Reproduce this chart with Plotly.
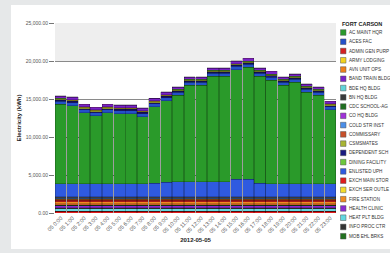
import plotly.graph_objects as go

hours = ["05 %d:00" % h for h in range(24)]

# legend order (names and colours)
series_names = ["AC MAINT HQR", "ACES FAC", "ADMIN GEN PURP", "ARMY LODGING", "AVN UNIT OPS",
                "BAND TRAIN BLDG", "BDE HQ BLDG", "BN HQ BLDG", "CDC SCHOOL-AG", "CO HQ BLDG",
                "COLD STR INST", "COMMISSARY", "CSMSMATES", "DEPENDENT SCH", "DINING FACILITY",
                "ENLISTED UPH", "EXCH MAIN STOR", "EXCH SER OUTLE", "FIRE STATION", "HEALTH CLINIC",
                "HEAT PLT BLDG", "INFO PROC CTR", "MOB EHL BRKS"]
series_colors = ["#2a9a2a", "#2450c8", "#d42020", "#f2d21e", "#ef7f1a",
                 "#7a22c8", "#5fd3d8", "#3a3a3a", "#1f6e1f", "#a030d8",
                 "#4c8ee8", "#c8502a", "#a8b432", "#1a1a80", "#6cc83c",
                 "#2f5ae0", "#e01c1c", "#f5dc2a", "#f08a22", "#8a2ad0",
                 "#62d8e0", "#333333", "#22701e"]

# values per series (kWh), one per hour
AC_MAINT_HQR = [10450, 10300, 9350, 8950, 9350, 9250, 9250, 8850, 10050, 10750, 11350, 12650,
                12650, 13850, 13850, 14450, 14750, 14050, 13650, 12950, 13350, 12050, 11650, 9750]
ENLISTED_UPH = [1700, 1700, 1700, 1700, 1700, 1700, 1700, 1700, 1800, 1900, 2000, 2000,
                2000, 2000, 2000, 2300, 2300, 1800, 1700, 1700, 1700, 1700, 1700, 1700]
ACES_FAC = [400] * 24
BAND_TRAIN_BLDG = [300] * 24
DEPENDENT_SCH = [150] * 24
CSMSMATES = [120] * 24
EXCH_SER_OUTLE = [60] * 24
DINING_FACILITY = [60] * 24
CO_HQ_BLDG = [60] * 24
EXCH_MAIN_STOR = [220] * 24
HEAT_PLT_BLDG = [330] * 24
INFO_PROC_CTR = [100] * 24
HEALTH_CLINIC = [280] * 24
CDC_SCHOOL_AG = [40] * 24
COMMISSARY = [200] * 24
FIRE_STATION = [260] * 24
ADMIN_GEN_PURP = [200] * 24
ARMY_LODGING = [80] * 24
AVN_UNIT_OPS = [60] * 24
BDE_HQ_BLDG = [60] * 24
COLD_STR_INST = [100] * 24
BN_HQ_BLDG = [170] * 24
MOB_EHL_BRKS = [30] * 24

values = {
    "AC MAINT HQR": AC_MAINT_HQR, "ACES FAC": ACES_FAC, "ADMIN GEN PURP": ADMIN_GEN_PURP,
    "ARMY LODGING": ARMY_LODGING, "AVN UNIT OPS": AVN_UNIT_OPS, "BAND TRAIN BLDG": BAND_TRAIN_BLDG,
    "BDE HQ BLDG": BDE_HQ_BLDG, "BN HQ BLDG": BN_HQ_BLDG, "CDC SCHOOL-AG": CDC_SCHOOL_AG,
    "CO HQ BLDG": CO_HQ_BLDG, "COLD STR INST": COLD_STR_INST, "COMMISSARY": COMMISSARY,
    "CSMSMATES": CSMSMATES, "DEPENDENT SCH": DEPENDENT_SCH, "DINING FACILITY": DINING_FACILITY,
    "ENLISTED UPH": ENLISTED_UPH, "EXCH MAIN STOR": EXCH_MAIN_STOR, "EXCH SER OUTLE": EXCH_SER_OUTLE,
    "FIRE STATION": FIRE_STATION, "HEALTH CLINIC": HEALTH_CLINIC, "HEAT PLT BLDG": HEAT_PLT_BLDG,
    "INFO PROC CTR": INFO_PROC_CTR, "MOB EHL BRKS": MOB_EHL_BRKS,
}

# stacking order, bottom to top
stack_order = ["EXCH MAIN STOR", "MOB EHL BRKS", "HEAT PLT BLDG", "INFO PROC CTR", "HEALTH CLINIC",
               "CDC SCHOOL-AG", "COMMISSARY", "FIRE STATION", "ADMIN GEN PURP", "ARMY LODGING",
               "AVN UNIT OPS", "BDE HQ BLDG", "COLD STR INST", "BN HQ BLDG", "ENLISTED UPH",
               "AC MAINT HQR", "ACES FAC", "DEPENDENT SCH", "CSMSMATES", "EXCH SER OUTLE",
               "DINING FACILITY", "BAND TRAIN BLDG", "CO HQ BLDG"]

y_ticks = [0, 5000, 10000, 15000, 20000, 25000]

color_of = dict(zip(series_names, series_colors))
FONT = "Liberation Sans, Arial, sans-serif"

fig = go.Figure()
for name in stack_order:
    fig.add_trace(go.Bar(
        x=hours, y=values[name], name=name,
        marker=dict(color=color_of[name], line=dict(color="rgba(0,0,0,0.35)", width=0.6)),
        showlegend=False,
    ))

L, R, T, B = 55, 336, 23, 213
W_PLOT = float(R - L)
H_PLOT = float(B - T)


def px_x(x):
    return (x - L) / W_PLOT


def px_y(y):
    return 1 - (y - T) / H_PLOT


shapes = [
    # white chart panel over grey page
    dict(type="rect", xref="paper", yref="paper", x0=px_x(11), x1=px_x(395),
         y0=px_y(249), y1=px_y(5),
         fillcolor="white", line=dict(width=0), layer="below"),
    # light grey back wall band at the top
    dict(type="rect", xref="paper", yref="y", x0=0, x1=1, y0=20000, y1=25000,
         fillcolor="#eeeeee", line=dict(width=0), layer="below"),
]
annotations = [
    dict(text="<b>FORT CARSON</b>", xref="paper", yref="paper", x=px_x(339.5),
         y=px_y(24), xanchor="left", yanchor="middle", showarrow=False,
         font=dict(family=FONT, size=5.5, color="#222")),
]

# compact legend built from the series lists
px_per_item = 9.26
for i, (name, col) in enumerate(zip(series_names, series_colors)):
    ypx = 32.5 + i * px_per_item
    shapes.append(dict(type="rect", xref="paper", yref="paper",
                       x0=px_x(340.5), x1=px_x(346),
                       y0=px_y(ypx + 2.8), y1=px_y(ypx - 2.8),
                       fillcolor=col, line=dict(color="#555", width=0.5)))
    annotations.append(dict(text=name, xref="paper", yref="paper",
                            x=px_x(347), y=px_y(ypx), xanchor="left", yanchor="middle",
                            showarrow=False, font=dict(family=FONT, size=4.6, color="#333")))

fig.update_layout(
    width=390, height=253,
    margin=dict(l=L, r=390 - R, t=T, b=253 - B),
    barmode="stack", bargap=0.04,
    paper_bgcolor="#e6e8e9", plot_bgcolor="rgba(0,0,0,0)",
    font=dict(family=FONT, size=5, color="#555"),
    showlegend=False,
    shapes=shapes, annotations=annotations,
    xaxis=dict(type="category", tickangle=-45, tickfont=dict(size=5.5, color="#555"),
               showgrid=False, ticks="", showline=False, automargin=False,
               title=dict(text="<b>2012-05-05</b>", font=dict(size=6, color="#222"), standoff=4)),
    yaxis=dict(range=[0, 25000], tickvals=y_ticks, tickformat=",.2f", automargin=False,
               tickfont=dict(size=5, color="#555"), ticks="outside", ticklen=5, tickcolor="#777",
               gridcolor="#8a8a8a", gridwidth=1, zeroline=False, showline=False,
               title=dict(text="<b>Electricity (kWh)</b>", font=dict(size=6, color="#222"), standoff=3)),
)

fig.write_html("out.html", config={"displayModeBar": False},
               post_script="document.body.style.margin='0';document.body.style.overflow='hidden';"
                           "document.body.style.background='#e6e8e9';")
